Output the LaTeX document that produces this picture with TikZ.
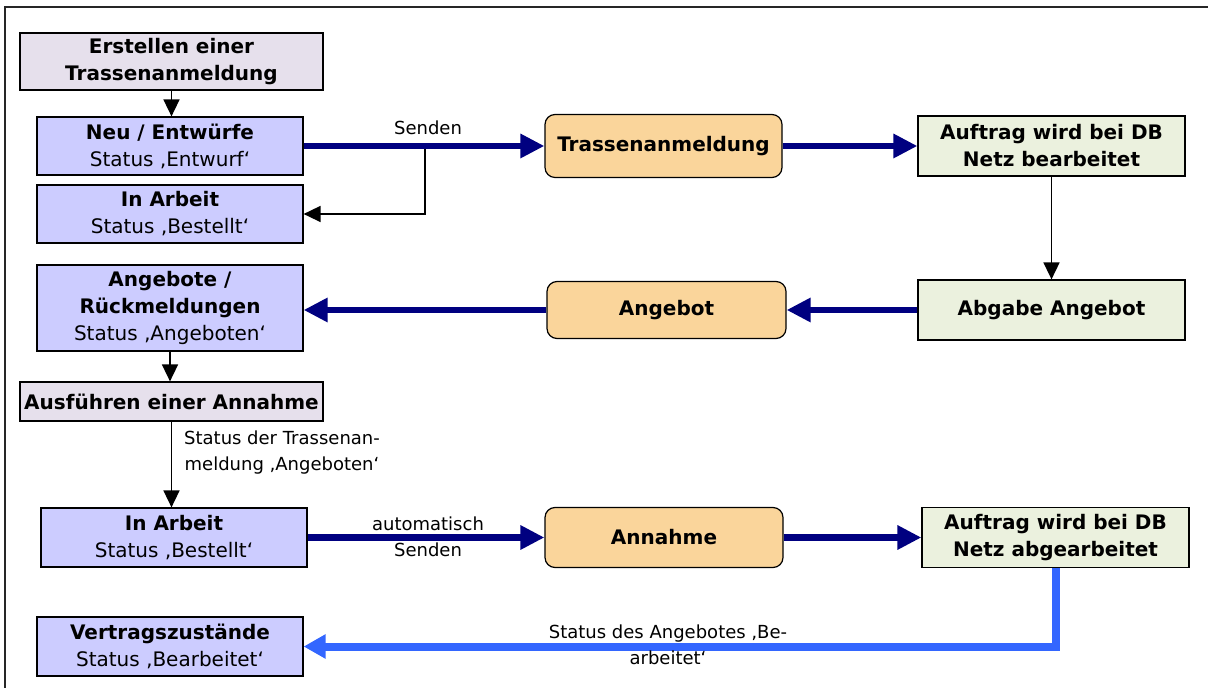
\documentclass[tikz,border=0pt]{standalone}
\usepackage{fontspec}
\setmainfont{DejaVu Sans}
\usetikzlibrary{arrows.meta}
\definecolor{lila}{RGB}{204,204,255}
\definecolor{grauLila}{RGB}{230,224,236}
\definecolor{orangeHell}{RGB}{250,213,155}
\definecolor{gruenHell}{RGB}{235,241,222}
\definecolor{marine}{RGB}{0,0,128}
\definecolor{hellblau}{RGB}{51,102,255}
\begin{document}
\begin{tikzpicture}[x=0.5pt,y=-0.5pt,
    kasten/.style={draw, line width=0.6pt, inner sep=0pt, align=center, font=\fontsize{10}{13.5}\selectfont},
    start/.style={kasten, fill=grauLila, font=\fontsize{10}{13.5}\selectfont\bfseries},
    zustand/.style={kasten, fill=lila},
    prozess/.style={kasten, fill=orangeHell, rounded corners=5pt, font=\fontsize{10}{13.5}\selectfont\bfseries},
    netz/.style={kasten, fill=gruenHell, font=\fontsize{10}{13.5}\selectfont\bfseries},
    duenn/.style={-{Triangle[length=8.5pt,width=8pt]}, line width=0.8pt},
    dick/.style={-{Triangle[length=12pt,width=11.5pt]}, line width=3.2pt, marine},
    hell/.style={-{Triangle[length=11pt,width=11.5pt]}, line width=4pt, hellblau},
    beschriftung/.style={font=\fontsize{9}{13}\selectfont, align=center}]
  \useasboundingbox (0,0) rectangle (1208,688);
  % Rahmen (nur oben und links sichtbar)
  \draw[line width=1pt, black!85] (1208,7) -- (5,7) -- (5,688);
  % Linke Spalte: Schritte und Zustaende
  \node[start, minimum width=151.5pt, minimum height=28.5pt] (erstellen) at (171.5,61.5) {Erstellen einer\\Trassenanmeldung};
  \node[zustand, minimum width=133pt, minimum height=29pt] (neu) at (170,146) {\textbf{Neu / Entwürfe}\\Status ‚Entwurf‘};
  \node[zustand, minimum width=133pt, minimum height=29pt] (arbeit) at (170,214) {\textbf{In Arbeit}\\Status ‚Bestellt‘};
  \node[zustand, minimum width=133pt, minimum height=43pt] (angebote) at (170,308) {\textbf{Angebote /}\\\textbf{Rückmeldungen}\\Status ‚Angeboten‘};
  \node[start, minimum width=151.5pt, minimum height=19.5pt] (ausfuehren) at (171.5,401.5) {Ausführen einer Annahme};
  \node[zustand, minimum width=133pt, minimum height=29.5pt] (arbeitB) at (174,537.5) {\textbf{In Arbeit}\\Status ‚Bestellt‘};
  \node[zustand, minimum width=133pt, minimum height=29.5pt] (vertrag) at (170,646.5) {\textbf{Vertragszustände}\\Status ‚Bearbeitet‘};
  % Mittlere Spalte: Vorgaenge
  \node[prozess, minimum width=118.5pt, minimum height=31.5pt] (trasse) at (663.5,146) {Trassenanmeldung};
  \node[prozess, minimum width=119.5pt, minimum height=28.5pt] (angebot) at (666.5,310) {Angebot};
  \node[prozess, minimum width=119pt, minimum height=30pt] (annahme) at (664,537.5) {Annahme};
  % Rechte Spalte: DB Netz
  \node[netz, minimum width=133.5pt, minimum height=30pt] (auftrag) at (1051.5,146) {Auftrag wird bei DB\\Netz bearbeitet};
  \node[netz, minimum width=133.5pt, minimum height=30pt] (abgabe) at (1051.5,310) {Abgabe Angebot};
  \node[netz, minimum width=133.5pt, minimum height=30pt] (auftragB) at (1055.5,537.5) {Auftrag wird bei DB\\Netz abgearbeitet};
  % Abzweig auf der Sendelinie
  \coordinate (abzweig) at (425,146);
  % Duenne Pfeile
  \draw[duenn] (erstellen.south) -- (erstellen.south |- neu.north);
  \draw[duenn] (abzweig) |- (arbeit.east);
  \draw[duenn] (auftrag.south) -- (abgabe.north);
  \draw[duenn] (angebote.south) -- (angebote.south |- ausfuehren.north);
  \draw[duenn] (ausfuehren.south) -- (ausfuehren.south |- arbeitB.north);
  % Dicke Pfeile
  \draw[dick] (neu.east) -- (trasse.west);
  \draw[dick] (trasse.east) -- (auftrag.west);
  \draw[dick] (abgabe.west) -- (angebot.east);
  \draw[dick] (angebot.west) -- (angebot.west -| angebote.east);
  \draw[dick] (arbeitB.east) -- (annahme.west);
  \draw[dick] (annahme.east) -- (auftragB.west);
  \draw[hell] (auftragB.south) |- (vertrag.east);
  % Beschriftungen der Pfeile
  \node[beschriftung] (senden) at (428,128) {Senden};
  \node[beschriftung] (statusTrasse) at (282,453) {Status der Trassenan-\\meldung ‚Angeboten‘};
  \node[beschriftung] (autoSenden) at (428,537) {automatisch\\Senden};
  \node[beschriftung] (statusAngebot) at (668,645) {Status des Angebotes ‚Be-\\arbeitet‘};
\end{tikzpicture}
\end{document}
